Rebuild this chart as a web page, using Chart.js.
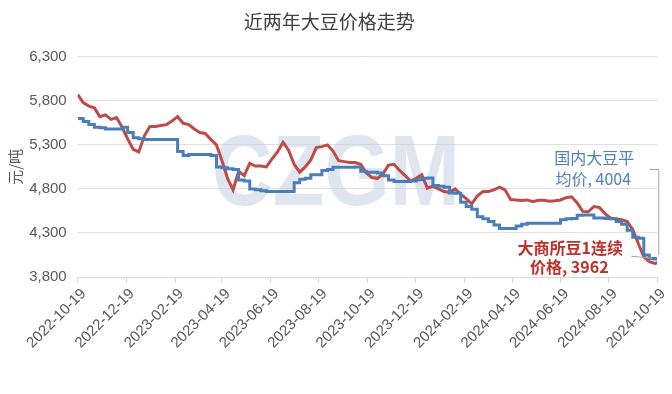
<!DOCTYPE html>
<html>
<head>
<meta charset="utf-8">
<script src="https://cdn.jsdelivr.net/npm/chart.js@4/dist/chart.umd.min.js"></script>
<style>
  html, body { margin: 0; padding: 0; background: #fff; }
  #wrap { width: 672px; height: 394px; position: relative; }
</style>
</head>
<body>
<div id="wrap"><canvas id="grafico"></canvas></div>
<script>
// weekly dates (last point = 2024-10-19)
const dates = [
  '2022-10-19','2022-10-26','2022-11-02','2022-11-09','2022-11-16','2022-11-23','2022-11-30','2022-12-07','2022-12-14','2022-12-21',
  '2022-12-28','2023-01-04','2023-01-11','2023-01-18','2023-01-25','2023-02-01','2023-02-08','2023-02-15','2023-02-22','2023-03-01',
  '2023-03-08','2023-03-15','2023-03-22','2023-03-29','2023-04-05','2023-04-12','2023-04-19','2023-04-26','2023-05-03','2023-05-10',
  '2023-05-17','2023-05-24','2023-05-31','2023-06-07','2023-06-14','2023-06-21','2023-06-28','2023-07-05','2023-07-12','2023-07-19',
  '2023-07-26','2023-08-02','2023-08-09','2023-08-16','2023-08-23','2023-08-30','2023-09-06','2023-09-13','2023-09-20','2023-09-27',
  '2023-10-04','2023-10-11','2023-10-18','2023-10-25','2023-11-01','2023-11-08','2023-11-15','2023-11-22','2023-11-29','2023-12-06',
  '2023-12-13','2023-12-20','2023-12-27','2024-01-03','2024-01-10','2024-01-17','2024-01-24','2024-01-31','2024-02-07','2024-02-14',
  '2024-02-21','2024-02-28','2024-03-06','2024-03-13','2024-03-20','2024-03-27','2024-04-03','2024-04-10','2024-04-17','2024-04-24',
  '2024-05-01','2024-05-08','2024-05-15','2024-05-22','2024-05-29','2024-06-05','2024-06-12','2024-06-19','2024-06-26','2024-07-03',
  '2024-07-10','2024-07-17','2024-07-24','2024-07-31','2024-08-07','2024-08-14','2024-08-21','2024-08-28','2024-09-04','2024-09-11',
  '2024-09-18','2024-09-25','2024-10-02','2024-10-09','2024-10-16','2024-10-19'
];

// 国内大豆平均价 (元/吨)
const domestic = [
  5600, 5600, 5565, 5530, 5500, 5495, 5480, 5480, 5480, 5500,
  5440, 5380, 5370, 5360, 5360, 5360, 5360, 5360, 5360, 5225,
  5180, 5190, 5190, 5190, 5190, 5180, 5050, 5040, 5030, 5020,
  4900, 4890, 4800, 4790, 4780, 4770, 4770, 4770, 4770, 4770,
  4870, 4910, 4920, 4960, 4960, 5010, 5020, 5045, 5045, 5045,
  5045, 5050, 5000, 4990, 4990, 4980, 4950, 4900, 4885, 4885,
  4885, 4890, 4905, 4920, 4925, 4840, 4830, 4820, 4755, 4750,
  4650, 4600, 4570, 4485, 4460, 4430, 4390, 4350, 4350, 4350,
  4380, 4400, 4410, 4410, 4410, 4410, 4410, 4410, 4450, 4460,
  4465, 4500, 4505, 4505, 4470, 4470, 4465, 4460, 4430, 4400,
  4330, 4250, 4240, 4050, 4010, 4004
];

// 大商所豆1连续价格 (元/吨)
const dce = [
  5870, 5780, 5740, 5720, 5620, 5640, 5590, 5610, 5500, 5370,
  5250, 5220, 5400, 5510, 5510, 5520, 5530, 5570, 5620, 5545,
  5530, 5480, 5440, 5430, 5360, 5300, 5120, 4920, 4790, 5000,
  4950, 5090, 5060, 5060, 5050, 5140, 5220, 5330, 5240, 5080,
  4990, 5050, 5130, 5270, 5280, 5300, 5230, 5120, 5110, 5100,
  5100, 5080, 4980, 4930, 4920, 4970, 5070, 5080, 5010, 4950,
  4890, 4920, 4960, 4810, 4830, 4800, 4770, 4760, 4800, 4740,
  4690, 4630, 4720, 4770, 4770, 4790, 4820, 4790, 4680, 4675,
  4670, 4675, 4655, 4670, 4670, 4660, 4665, 4675, 4700, 4710,
  4640, 4545, 4540, 4600, 4590, 4520, 4470, 4460, 4450, 4430,
  4340, 4180, 4030, 3975, 3955, 3962
];

const tickLabels = [
  '2022-10-19','2022-12-19','2023-02-19','2023-04-19','2023-06-19','2023-08-19','2023-10-19',
  '2023-12-19','2024-02-19','2024-04-19','2024-06-19','2024-08-19','2024-10-19'
];
const yTicks = [3800, 4300, 4800, 5300, 5800, 6300];

const blueLabel = ['国内大豆平', '均价, ' + domestic[domestic.length - 1]];
const redLabel = ['大商所豆1连续', '价格, ' + dce[dce.length - 1]];

const toPoints = (vals) => vals.map((v, i) => ({ x: Date.parse(dates[i]), y: v }));

// marca de agua
const watermark = {
  id: 'watermark',
  beforeDatasetsDraw(chart) {
    const ctx = chart.ctx;
    ctx.save();
    ctx.font = 'bold 100px "Liberation Sans", Arial, sans-serif';
    const w = ctx.measureText('CZGM').width;
    ctx.translate(212, 205);
    ctx.scale(248 / w, 1);
    ctx.fillStyle = 'rgba(196, 210, 228, 0.55)';
    ctx.textBaseline = 'alphabetic';
    ctx.fillText('CZGM', 0, 0);
    ctx.restore();
  }
};

// etiquetas de fin de serie
const endLabels = {
  id: 'endLabels',
  afterDatasetsDraw(chart) {
    const ctx = chart.ctx;
    const xs = chart.scales.x, ys = chart.scales.y;
    const ex = xs.getPixelForValue(Date.parse(dates[dates.length - 1]));
    const by = ys.getPixelForValue(domestic[domestic.length - 1]);
    const ry = ys.getPixelForValue(dce[dce.length - 1]);
    ctx.save();
    ctx.strokeStyle = '#a6a6a6';
    ctx.lineWidth = 1;
    ctx.beginPath();
    ctx.moveTo(ex - 8, by - 89.5);
    ctx.lineTo(ex + 1.5, by - 89.5);
    ctx.lineTo(ex + 1.5, by - 4);
    ctx.stroke();
    ctx.beginPath();
    ctx.moveTo(ex - 26, ry - 6.5);
    ctx.lineTo(ex - 5, ry - 4.5);
    ctx.stroke();

    ctx.textAlign = 'center';
    ctx.textBaseline = 'middle';
    ctx.font = '16px "Noto Sans CJK SC", sans-serif';
    ctx.fillStyle = '#4f81bd';
    ctx.fillText(blueLabel[0], ex - 63, by - 101);
    ctx.fillText(blueLabel[1], ex - 64, by - 80);
    ctx.font = 'bold 16px "Noto Sans CJK SC", sans-serif';
    ctx.fillStyle = '#c0302b';
    ctx.fillText(redLabel[0], ex - 87, ry - 15);
    ctx.fillText(redLabel[1], ex - 88, ry + 4);
    ctx.restore();
  }
};

const ctx = document.getElementById('grafico').getContext('2d');

const chart = new Chart(ctx, {
  type: 'line',
  data: {
    datasets: [
      {
        label: '国内大豆平均价',
        data: toPoints(domestic),
        borderColor: '#4a7ebb',
        borderWidth: 3,
        stepped: 'after',
        pointRadius: 0,
        fill: false,
      },
      {
        label: '大商所豆1连续价格',
        data: toPoints(dce),
        borderColor: '#be4b48',
        borderWidth: 3,
        tension: 0,
        pointRadius: 0,
        fill: false,
      },
    ],
  },
  options: {
    responsive: true,
    maintainAspectRatio: false,
    animation: false,
    layout: {
      padding: { left: 0, right: 13.5, top: 0, bottom: 0 },
    },
    plugins: {
      legend: { display: false },
      tooltip: { enabled: false },
      title: {
        display: true,
        text: '近两年大豆价格走势',
        color: '#404040',
        font: { family: '"Noto Sans CJK SC", sans-serif', size: 19, weight: 'normal' },
        padding: { top: 10, bottom: 24 },
      },
    },
    scales: {
      x: {
        type: 'linear',
        min: Date.parse(tickLabels[0]),
        max: Date.parse(tickLabels[tickLabels.length - 1]),
        afterBuildTicks: (scale) => {
          scale.ticks = tickLabels.map((t) => ({ value: Date.parse(t) }));
        },
        afterFit: (scale) => {
          scale.height = 117;
        },
        ticks: {
          autoSkip: false,
          minRotation: 45,
          maxRotation: 45,
          labelOffset: 6,
          padding: 2,
          color: '#595959',
          font: { family: '"Liberation Sans", Arial, sans-serif', size: 15 },
          callback: (value, index) => tickLabels[index],
        },
        grid: {
          drawOnChartArea: false,
          drawTicks: true,
          tickLength: 6,
          color: '#d9d9d9',
        },
        border: { display: true, color: '#d9d9d9' },
      },
      y: {
        min: yTicks[0],
        max: yTicks[yTicks.length - 1],
        afterBuildTicks: (scale) => {
          scale.ticks = yTicks.map((v) => ({ value: v }));
        },
        afterFit: (scale) => {
          scale.width = 77.7;
        },
        ticks: {
          padding: 11,
          color: '#595959',
          font: { family: '"Liberation Sans", Arial, sans-serif', size: 15 },
          callback: (value) => value.toLocaleString('en-US'),
        },
        grid: {
          drawTicks: false,
          color: '#e0e0e0',
        },
        border: { display: false },
        title: {
          display: true,
          text: '元/吨',
          color: '#595959',
          font: { family: '"Noto Sans CJK SC", sans-serif', size: 15 },
          padding: { top: 6, bottom: 0 },
        },
      },
    },
  },
  plugins: [watermark, endLabels],
});
</script>
</body>
</html>
